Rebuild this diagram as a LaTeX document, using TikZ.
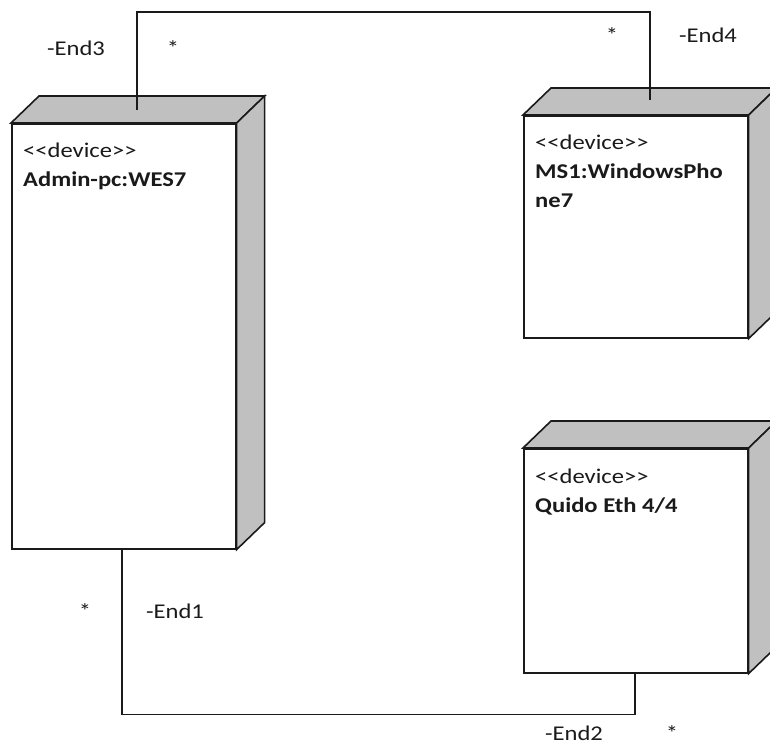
\documentclass[tikz,border=0pt]{standalone}
\usepackage{fontspec}
\setmainfont[FakeStretch=1.17, Ligatures=TeXOff]{Carlito}
\newfontfamily\namefont[FakeStretch=1.17, Ligatures=TeXOff]{Carlito}
\usepackage{tikz}
\usetikzlibrary{calc, positioning}
\definecolor{Ink}{HTML}{1A1A1A}
\definecolor{Shade}{HTML}{C0C0C0}
\tikzset{
  front/.style={rectangle, draw=Ink, line width=1.6pt, fill=white, inner sep=0pt,
    minimum width=224pt, anchor=north west},
  shade/.style={draw=Ink, line width=1.6pt, fill=Shade},
  link/.style={draw=Ink, line width=1.3pt},
  label/.style={color=Ink, font=\fontsize{21}{29}\selectfont, inner sep=0pt},
  stereo/.style={label, anchor=base west, align=left},
}
\newcommand{\dpx}{28}
\newcommand{\dpy}{27}
\newcommand{\devname}[1]{{\namefont\fontsize{21}{29}\selectfont\bfseries #1}}

\begin{document}
\begin{tikzpicture}[x=1pt, y=-1pt]
  \useasboundingbox (0,0) rectangle (770,744);

  % Front faces
  \node[front, minimum height=425pt] (admin) at (11,123) {};
  \node[front, minimum height=222pt] (ms1) at (523,115) {};
  \node[front, minimum height=224pt] (quido) at (523,448) {};

  % Top and side faces
  \foreach \n in {admin, ms1, quido} {
    \draw[shade] (\n.north west) -- ++(\dpx,-\dpy) -- ($(\n.north east)+(\dpx,-\dpy)$)
      -- (\n.north east) -- cycle;
    \draw[shade] (\n.north east) -- ++(\dpx,-\dpy) -- ($(\n.south east)+(\dpx,-\dpy)$)
      -- (\n.south east) -- cycle;
  }

  % Device texts (base = last line)
  \node[stereo] (admin-text) at ($(admin.north west)+(12,63)$)
    {<<device>>\\\devname{Admin-pc:WES7}};
  \node[stereo] (ms1-text) at ($(ms1.north west)+(12,92)$)
    {<<device>>\\\devname{MS1:WindowsPho}\\\devname{ne7}};
  \node[stereo] (quido-text) at ($(quido.north west)+(12,64)$)
    {<<device>>\\\devname{Quido Eth 4/4}};

  % Ports
  \coordinate (admin-top) at ($(admin.north west)+(126,-13)$);
  \coordinate (ms1-top) at ($(ms1.north west)+(127,-15)$);
  \coordinate (admin-bot) at ($(admin.south west)+(111,0)$);
  \coordinate (quido-bot) at ($(quido.south west)+(112,0)$);

  % Associations
  \draw[link] (admin-top) -- ++(0,-98) -| (ms1-top);
  \draw[link] (admin-bot) -- ++(0,165) -| (quido-bot);

  % Role names and multiplicities
  \node[label, anchor=base] (end3) at (76,55) {-End3};
  \node[label, anchor=base] (mult3) at (173,55) {*};
  \node[label, anchor=base] (mult4) at (612,42) {*};
  \node[label, anchor=base] (end4) at (708,42) {-End4};
  \node[label, anchor=base] (mult1) at (85,618) {*};
  \node[label, anchor=base] (end1) at (175,618) {-End1};
  \node[label, anchor=base] (end2) at (574,740) {-End2};
  \node[label, anchor=base] (mult2) at (672,740) {*};
\end{tikzpicture}
\end{document}
